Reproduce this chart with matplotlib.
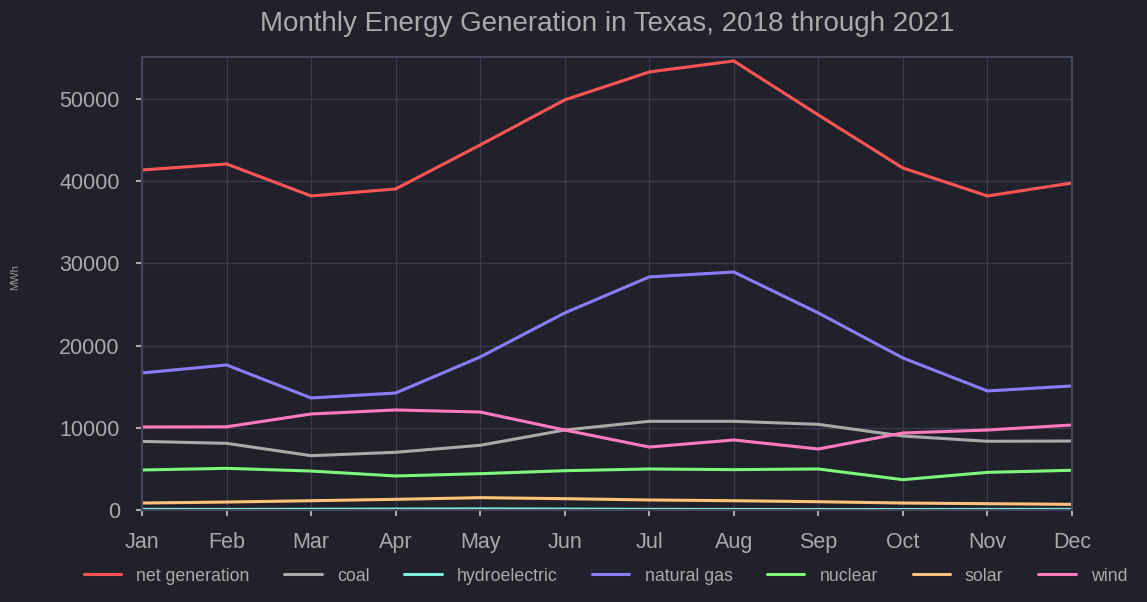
import matplotlib.pyplot as plt

plt.rcParams['font.family'] = ['Liberation Sans', 'DejaVu Sans']

months = ['Jan', 'Feb', 'Mar', 'Apr', 'May', 'Jun',
          'Jul', 'Aug', 'Sep', 'Oct', 'Nov', 'Dec']

net_generation = [41360, 42090, 38200, 39050, 44400, 49880,
                  53280, 54620, 48050, 41600, 38200, 39780]
coal = [8350, 8110, 6610, 7020, 7870, 9730,
        10790, 10790, 10420, 9000, 8360, 8390]
hydroelectric = [80, 70, 90, 110, 130, 110,
                 80, 70, 60, 60, 70, 80]
natural_gas = [16670, 17640, 13630, 14230, 18610, 23970,
               28350, 28950, 23970, 18490, 14480, 15090]
nuclear = [4870, 5070, 4740, 4140, 4420, 4780,
           4990, 4910, 4990, 3690, 4580, 4830]
solar = [850, 970, 1130, 1300, 1500, 1380,
         1220, 1130, 1010, 850, 770, 690]
wind = [10100, 10120, 11680, 12170, 11920, 9730,
        7660, 8520, 7420, 9370, 9730, 10340]

series = [
    ('net generation', net_generation, '#ff5555'),
    ('coal', coal, '#aaaaaa'),
    ('hydroelectric', hydroelectric, '#7ff0e4'),
    ('natural gas', natural_gas, '#8c7cf9'),
    ('nuclear', nuclear, '#7ff77c'),
    ('solar', solar, '#ffc27a'),
    ('wind', wind, '#ff7bc0'),
]

bg = '#21212c'
txt = '#aaaaaa'

fig = plt.figure(figsize=(11.47, 6.02), dpi=100, facecolor=bg)
ax = fig.add_axes([0.1238, 0.1528, 0.8108, 0.7525])
ax.set_facecolor(bg)

x = list(range(len(months)))
for nome, valores, cor in series:
    ax.plot(x, valores, color=cor, lw=2.2, label=nome, solid_capstyle='round')

ax.set_xlim(0, 11)
ax.set_ylim(0, 55100)
ax.set_xticks(x)
ax.set_xticklabels(months)
ax.set_yticks([0, 10000, 20000, 30000, 40000, 50000])

ax.grid(True, color='#3a3a4c', lw=1)
ax.set_axisbelow(True)
for s in ax.spines.values():
    s.set_color('#44445a')
    s.set_linewidth(1.5)

ax.tick_params(axis='both', colors=txt, labelsize=15.5, length=4, width=1.5)
ax.tick_params(axis='x', pad=12)
ax.tick_params(axis='y', pad=12)

ax.set_title('Monthly Energy Generation in Texas, 2018 through 2021',
             color=txt, fontsize=20, pad=19)
fig.text(0.013, 0.54, 'MWh', rotation=90, color='#999999', fontsize=8,
         va='center', ha='center')

fig.legend(loc='center', bbox_to_anchor=(0.528, 0.043), ncol=7, frameon=False,
           fontsize=12.8, labelcolor=txt, handlelength=2.1, handletextpad=0.85,
           columnspacing=1.95)

fig.savefig('out.png', dpi=100, facecolor=bg)
